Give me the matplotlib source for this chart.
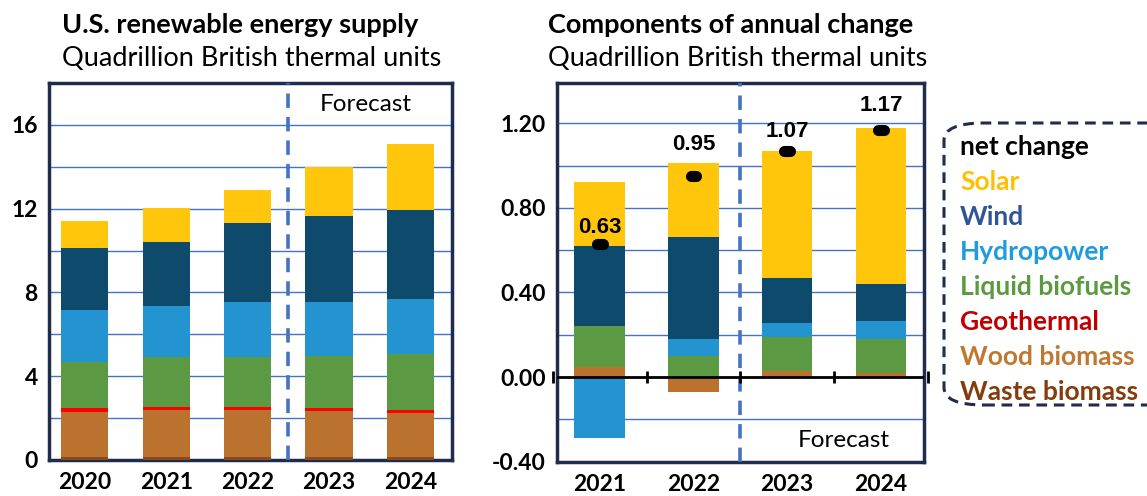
import numpy as np
import matplotlib.pyplot as plt
from matplotlib.patches import FancyBboxPatch

plt.rcParams['font.family'] = ['Lato', 'DejaVu Sans']

# Left chart: supply by source (quads)
years = ['2020', '2021', '2022', '2023', '2024']
waste = [0.15, 0.15, 0.15, 0.15, 0.15]
wood = [2.15, 2.23, 2.23, 2.21, 2.09]
geothermal = [0.16, 0.14, 0.14, 0.14, 0.14]
biofuels = [2.24, 2.40, 2.40, 2.47, 2.70]
hydro = [2.47, 2.41, 2.63, 2.58, 2.63]
wind = [2.95, 3.10, 3.78, 4.08, 4.24]
solar = [1.31, 1.58, 1.57, 2.34, 3.16]

# Right chart: components of annual change
chg_years = ['2021', '2022', '2023', '2024']
chg_waste = [0.0, 0.0, 0.0, 0.0]
chg_wood = [0.05, -0.07, 0.03, 0.02]
chg_geo = [0.0, 0.0, 0.0, 0.0]
chg_bio = [0.19, 0.10, 0.16, 0.16]
chg_hydro = [-0.29, 0.08, 0.064, 0.087]
chg_wind = [0.38, 0.48, 0.215, 0.175]
chg_solar = [0.30, 0.35, 0.60, 0.735]
net_change = [0.63, 0.95, 1.07, 1.17]

bar_colors = ['#8B4A1E', '#BC722F', '#FF0000', '#5B9A42', '#2394D0', '#0D4A6B', '#FFC60B']
text_colors = {'net change': '#000000', 'Solar': '#FFC000', 'Wind': '#2F5597',
               'Hydropower': '#1F9BDE', 'Liquid biofuels': '#5B9A40',
               'Geothermal': '#C00000', 'Wood biomass': '#C07830',
               'Waste biomass': '#843C0C'}

frame_col = '#1F2D4D'
grid_col = '#4472C4'

fig = plt.figure(figsize=(11.47, 4.96), dpi=100)
ax1 = fig.add_axes([0.0427, 0.0726, 0.3513, 0.7601])
ax2 = fig.add_axes([0.4853, 0.069, 0.3203, 0.7637])

# ---- left chart
x1 = np.arange(len(years))
bottom = np.zeros(len(years))
for vals, col in zip([waste, wood, geothermal, biofuels, hydro, wind, solar], bar_colors):
    ax1.bar(x1, vals, bottom=bottom, width=0.58, color=col, zorder=3)
    bottom += np.array(vals)

ax1.set_ylim(0, 18)
ax1.set_xlim(-0.44, 4.51)
ax1.set_yticks(np.arange(0, 17, 2))
ax1.set_yticklabels([str(v) if v % 4 == 0 else '' for v in range(0, 17, 2)])
ax1.set_xticks(x1)
ax1.set_xticklabels(years)
ax1.axvline(2.5, color=grid_col, ls=(0, (4, 2.5)), lw=2.6, zorder=4)
ax1.text(3.45, 16.95, 'Forecast', ha='center', va='center', fontsize=17.5)

# ---- right chart
x2 = np.arange(len(chg_years))
pos_bottom = np.zeros(len(chg_years))
neg_bottom = np.zeros(len(chg_years))
for vals, col in zip([chg_waste, chg_wood, chg_geo, chg_bio, chg_hydro, chg_wind, chg_solar],
                     bar_colors):
    vals = np.array(vals)
    base = np.where(vals >= 0, pos_bottom, neg_bottom)
    ax2.bar(x2, vals, bottom=base, width=0.54, color=col, zorder=3)
    pos_bottom += np.where(vals >= 0, vals, 0)
    neg_bottom += np.where(vals < 0, vals, 0)

hl = ax2.hlines(net_change, x2 - 0.03, x2 + 0.03, color='black', lw=8, zorder=6)
hl.set_capstyle('round')
label_off = [12, 23, 14, 17]
for xi, v, off in zip(x2, net_change, label_off):
    ax2.annotate(f'{v:.2f}', (xi, v), xytext=(0, off), textcoords='offset points',
                 ha='center', va='center', fontsize=16, fontweight='bold',
                 family='Liberation Sans', zorder=7)

ax2.set_ylim(-0.4, 1.39)
ax2.set_xlim(-0.46, 3.46)
yt = np.round(np.arange(-0.4, 1.21, 0.2), 2)
ax2.set_yticks(yt)
ax2.set_yticklabels([f'{v:.2f}' if round(v / 0.4, 6) % 1 == 0 else '' for v in yt])
ax2.set_xticks(x2)
ax2.set_xticklabels(chg_years)
ax2.axhline(0, color='black', lw=2, zorder=5)
ax2.plot(np.arange(len(chg_years) + 1) - 0.5, np.zeros(len(chg_years) + 1), ls='none',
         marker='|', ms=9, mew=2, color='black', zorder=5, clip_on=False)
ax2.axvline(1.5, color=grid_col, ls=(0, (4, 2.5)), lw=2.6, zorder=4)
ax2.text(2.6, -0.3, 'Forecast', ha='center', va='center', fontsize=17.5)

for ax in (ax1, ax2):
    ax.grid(axis='y', color=grid_col, lw=1, zorder=0)
    ax.set_axisbelow(True)
    ax.tick_params(length=0, labelsize=16.5)
    ax.tick_params(axis='x', pad=9)
    ax.tick_params(axis='y', pad=8)
    for lab in ax.get_xticklabels() + ax.get_yticklabels():
        lab.set_fontweight('bold')
    for sp in ax.spines.values():
        sp.set_color(frame_col)
        sp.set_linewidth(2.5)

# ---- titles
fig.text(0.054, 0.95, 'U.S. renewable energy supply', fontsize=19.5, fontweight='bold', va='center')
fig.text(0.054, 0.883, 'Quadrillion British thermal units', fontsize=19.5, va='center')
fig.text(0.478, 0.95, 'Components of annual change', fontsize=19.5, fontweight='bold', va='center')
fig.text(0.478, 0.883, 'Quadrillion British thermal units', fontsize=19.5, va='center')

# ---- legend (box runs off the right edge, as in the original)
box = FancyBboxPatch((944 / 1147, 91 / 496), 260 / 1147, 282 / 496,
                     boxstyle='round,pad=0,rounding_size=0.035', transform=fig.transFigure,
                     fill=False, ec=frame_col, lw=2.2, ls=(0, (3.5, 2.2)), clip_on=False)
fig.patches.append(box)
entries = ['net change', 'Solar', 'Wind', 'Hydropower', 'Liquid biofuels',
           'Geothermal', 'Wood biomass', 'Waste biomass']
for i, name in enumerate(entries):
    fig.text(960 / 1147, 1 - (147 + i * 35.0) / 496, name, color=text_colors[name],
             fontsize=19, fontweight='bold', va='center')

fig.savefig('out.png', dpi=100)
